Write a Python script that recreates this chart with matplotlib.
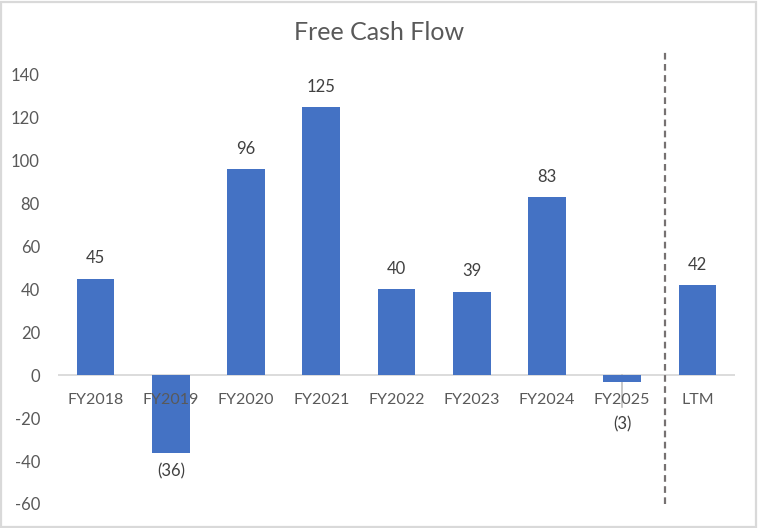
import numpy as np
import matplotlib.pyplot as plt
from matplotlib.patches import Rectangle

# data
categories = ['FY2018', 'FY2019', 'FY2020', 'FY2021', 'FY2022',
              'FY2023', 'FY2024', 'FY2025', 'LTM']
fcf = [45, -36, 96, 125, 40, 39, 83, -3, 42]
y_ticks = [-60, -40, -20, 0, 20, 40, 60, 80, 100, 120, 140]

BLUE = '#4472C4'
TEXT = '#595959'
GRID = '#D9D9D9'

plt.rcParams['font.family'] = ['Lato', 'DejaVu Sans']

fig = plt.figure(figsize=(7.58, 5.28), dpi=100)
fig.patches.append(Rectangle((0.001, 0.002), 0.997, 0.995, transform=fig.transFigure,
                             fill=False, edgecolor=GRID, linewidth=1.6))

ax = fig.add_axes([58 / 758, 24 / 528, 677 / 758, 453.7 / 528])
x = np.arange(len(categories))
bars = ax.bar(x, fcf, width=0.5, color=BLUE, zorder=2)

ax.set_xlim(-0.5, len(categories) - 0.5)
ax.set_ylim(-60, 151.5)
ax.set_yticks(y_ticks)
ax.set_yticklabels([str(v) for v in y_ticks], fontsize=12, color=TEXT)
ax.tick_params(axis='y', length=0, pad=13)
ax.set_xticks([])
for s in ax.spines.values():
    s.set_visible(False)

# zero line
ax.axhline(0, color=GRID, linewidth=1.3, zorder=1)

# category labels sit just under the zero line
for xi, name in zip(x, categories):
    ax.annotate(name, (xi, 0), xytext=(0, -18), textcoords='offset points',
                ha='center', va='center', fontsize=11.5, color=TEXT)

# little grey stub under the FY2025 bar
ax.plot([7, 7], [0, -15], color='#BFBFBF', linewidth=1.2, zorder=1)

# data labels
for xi, v in zip(x, fcf):
    txt = f'({abs(v)})' if v < 0 else f'{v}'
    if v >= 0:
        off, va = 9, 'bottom'
    elif v > -10:
        off, va = -25, 'top'
    else:
        off, va = -8, 'top'
    ax.annotate(txt, (xi, v), xytext=(0, off), textcoords='offset points',
                ha='center', va=va, fontsize=12, color='#404040')

# dashed divider before LTM
ax.axvline(7.57, color='#767171', linewidth=1.6, linestyle=(0, (3, 2)), zorder=3)

fig.text(0.5, 1 - 33 / 528, 'Free Cash Flow', ha='center', va='center',
         fontsize=18, color=TEXT)

fig.savefig('out.png', dpi=100)
